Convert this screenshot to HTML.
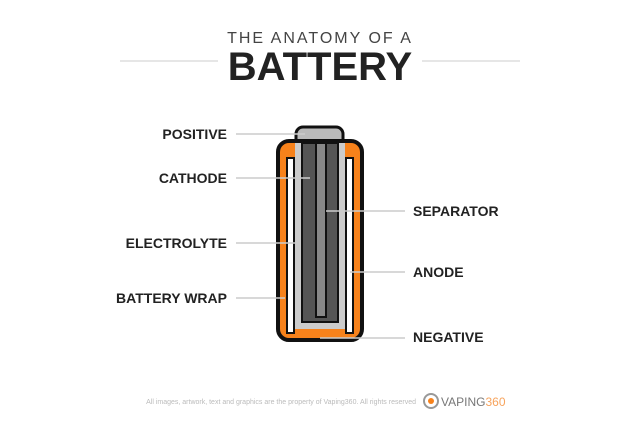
<!DOCTYPE html><html><head><style>
body{margin:0;width:640px;height:426px;background:#fff;overflow:hidden;font-family:"Liberation Sans",sans-serif}
</style></head><body>
<svg width="640" height="426" xmlns="http://www.w3.org/2000/svg">
<text x="320" y="43" text-anchor="middle" font-size="16" letter-spacing="2" fill="#444" font-family="Liberation Sans">THE ANATOMY OF A</text>
<text x="320" y="80" text-anchor="middle" font-size="40" font-weight="bold" letter-spacing="0" fill="#222" font-family="Liberation Sans">BATTERY</text>
<line x1="120" y1="61" x2="218" y2="61" stroke="#ccc"/>
<line x1="422" y1="61" x2="520" y2="61" stroke="#ccc"/>
<rect x="296" y="127" width="47" height="22" rx="7" fill="#bbb" stroke="#111" stroke-width="3"/>
<rect x="278" y="141" width="84" height="199" rx="11" fill="#f7821b" stroke="#111" stroke-width="4"/>
<rect x="287" y="158" width="7" height="175" fill="#fff" stroke="#111" stroke-width="2"/>
<rect x="346" y="158" width="7" height="175" fill="#fff" stroke="#111" stroke-width="2"/>
<rect x="295" y="143" width="50" height="186" fill="#ccc"/>
<rect x="302" y="143" width="36" height="179" fill="#555" stroke="#111" stroke-width="2"/>
<rect x="316" y="143" width="10" height="174" fill="#888" stroke="#111" stroke-width="2"/>
<g stroke="#ccc" stroke-width="1.5">
<line x1="236" y1="134" x2="305" y2="134"/>
<line x1="236" y1="178" x2="310" y2="178"/>
<line x1="236" y1="243" x2="296" y2="243"/>
<line x1="236" y1="298" x2="285" y2="298"/>
<line x1="326" y1="211" x2="405" y2="211"/>
<line x1="350" y1="272" x2="405" y2="272"/>
<line x1="320" y1="338" x2="405" y2="338"/>
</g>
<g font-size="14" font-weight="bold" fill="#222" font-family="Liberation Sans">
<text x="227" y="139" text-anchor="end">POSITIVE</text>
<text x="227" y="183" text-anchor="end">CATHODE</text>
<text x="227" y="248" text-anchor="end">ELECTROLYTE</text>
<text x="227" y="303" text-anchor="end">BATTERY WRAP</text>
<text x="413" y="216">SEPARATOR</text>
<text x="413" y="277">ANODE</text>
<text x="413" y="342">NEGATIVE</text>
</g>
<text x="416" y="404" text-anchor="end" font-size="7" fill="#bbb" font-family="Liberation Sans">All images, artwork, text and graphics are the property of Vaping360. All rights reserved</text>
<circle cx="431" cy="401" r="7" fill="none" stroke="#999" stroke-width="2"/>
<circle cx="431" cy="401" r="3" fill="#f7821b"/>
<text x="441" y="406" font-size="12" fill="#777" font-family="Liberation Sans">VAPING<tspan fill="#f7a35c">360</tspan></text>
</svg>
</body></html>
